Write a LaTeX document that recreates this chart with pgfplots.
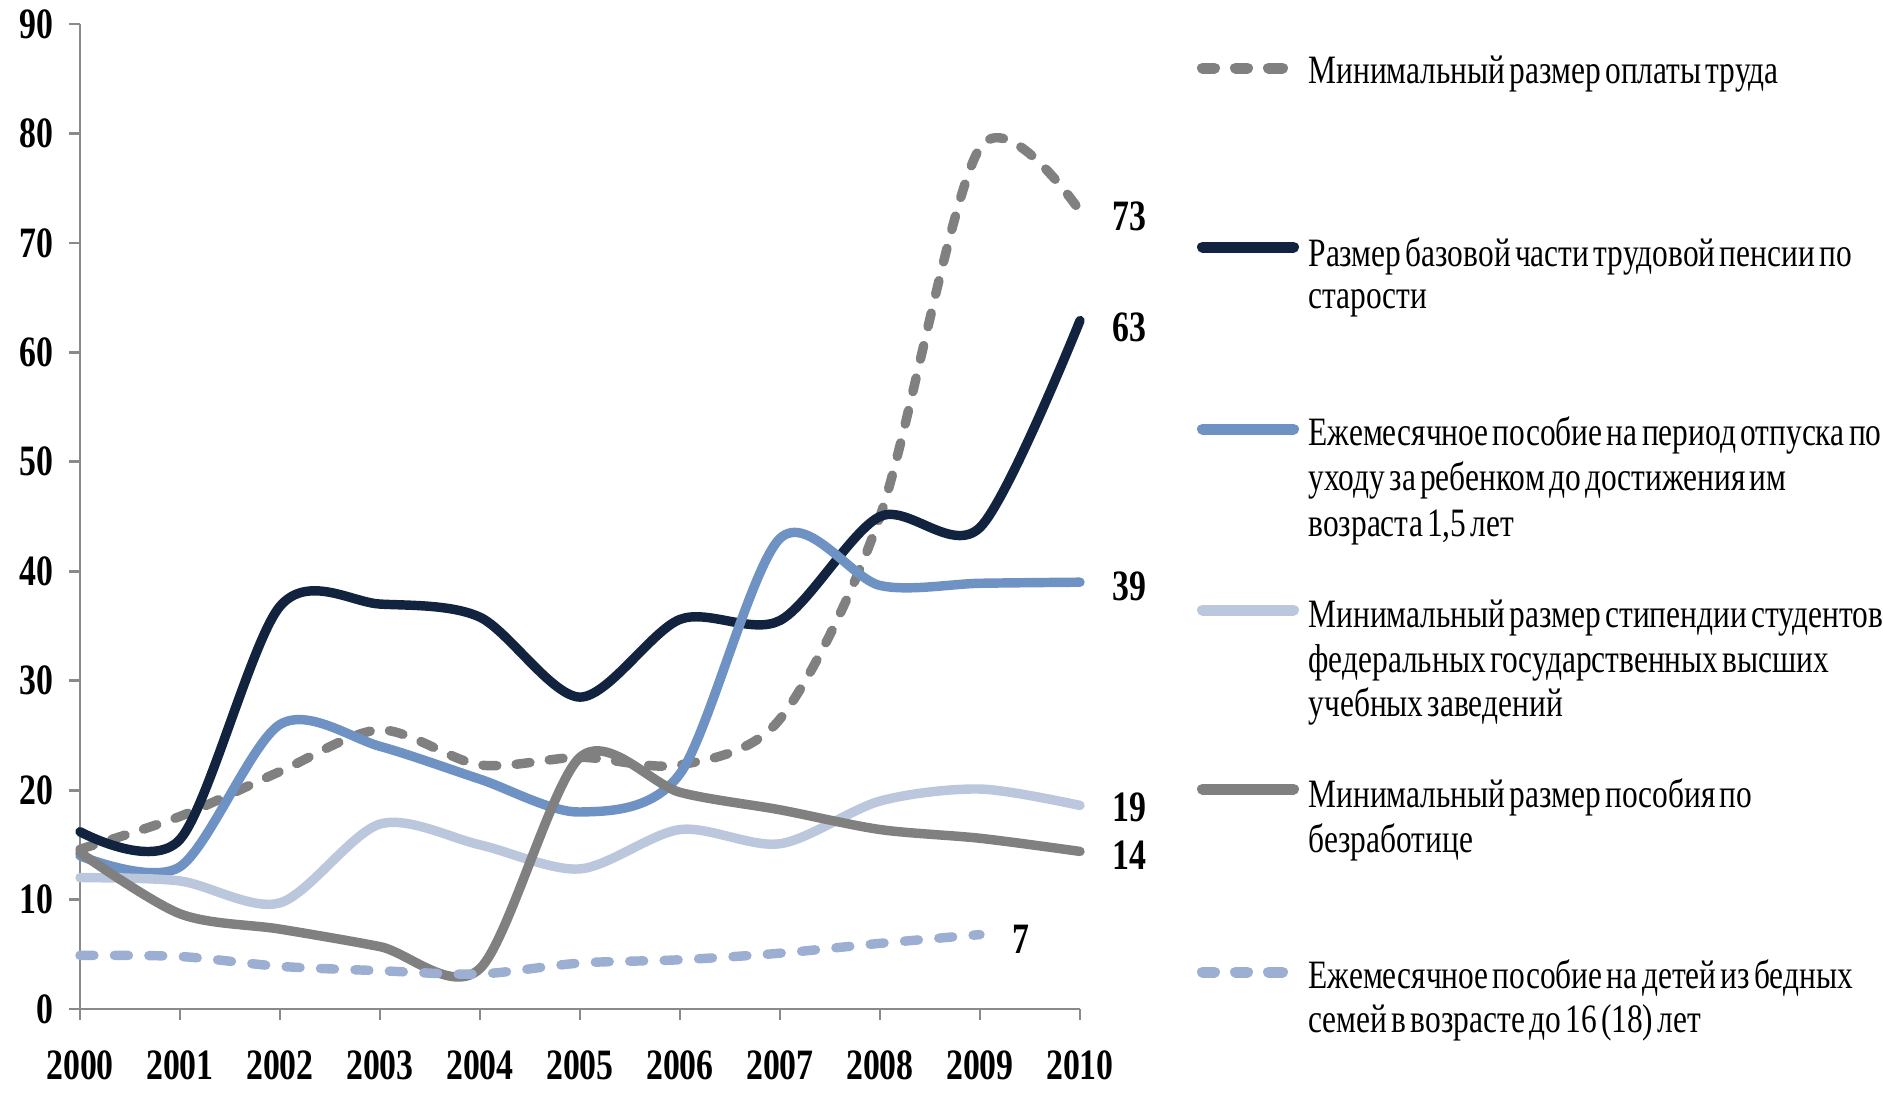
\documentclass[border=0pt]{standalone}
\usepackage{fontspec}
\setmainfont{Liberation Serif}[FakeStretch=0.78, WordSpace=0.55]
\newfontfamily\tickfont{Liberation Serif}[FakeStretch=0.78]
\usepackage{pgfplots}
\pgfplotsset{compat=1.18}
\definecolor{navy}{HTML}{12233F}
\definecolor{midblue}{HTML}{6E92C3}
\definecolor{lightblue}{HTML}{BBC7DD}
\definecolor{dgray}{HTML}{808080}
\definecolor{dashblue}{HTML}{9CAFD3}
\definecolor{axisgray}{HTML}{8A8A8A}
\begin{document}
\begin{tikzpicture}
\useasboundingbox (0,0) rectangle (677.88pt,-394.2pt);
\begin{axis}[
  at={(28.8pt,-363.24pt)}, anchor=south west,
  scale only axis, width=360pt, height=354.6pt,
  xmin=2000, xmax=2010, ymin=0, ymax=90,
  axis lines=left,
  axis line style={-, draw=axisgray, line width=1pt},
  xtick={2000,...,2010}, ytick={0,10,...,90},
  tick align=outside, major tick length=3.8pt,
  tick style={draw=axisgray, line width=1pt},
  ticklabel style={font=\tickfont\bfseries\fontsize{15.6}{16}\selectfont, text=black},
  /pgf/number format/assume math mode=true,
  /pgf/number format/1000 sep={},
  xticklabel style={yshift=-7.5pt},
  yticklabel style={xshift=-2.3pt},
  clip=false,
  every axis plot/.append style={line width=3.4pt, line cap=round, line join=round, smooth},
]
% Minimum wage
\addplot[dgray, dash pattern=on 5pt off 7pt] coordinates {
 (2000,14.6) (2001,17.6) (2002,21.7) (2003,25.5) (2004,22.3) (2005,23.0)
 (2006,22.3) (2007,26.5) (2008,45.0) (2009,78.7) (2010,72.9)};
% Base pension
\addplot[navy] coordinates {
 (2000,16.2) (2001,15.5) (2002,36.8) (2003,37.0) (2004,35.8) (2005,28.5)
 (2006,35.6) (2007,35.5) (2008,45.0) (2009,44.0) (2010,62.9)};
% Child care allowance
\addplot[midblue] coordinates {
 (2000,14.0) (2001,13.0) (2002,26.0) (2003,24.0) (2004,21.0) (2005,18.0)
 (2006,21.5) (2007,43.0) (2008,38.7) (2009,38.9) (2010,39.0)};
% Stipend
\addplot[lightblue] coordinates {
 (2000,12.0) (2001,11.7) (2002,9.7) (2003,16.9) (2004,15.0) (2005,12.8)
 (2006,16.4) (2007,15.1) (2008,19.0) (2009,20.1) (2010,18.6)};
% Unemployment benefit
\addplot[dgray] coordinates {
 (2000,14.3) (2001,8.7) (2002,7.3) (2003,5.7) (2004,3.7) (2005,23.0)
 (2006,19.8) (2007,18.2) (2008,16.4) (2009,15.6) (2010,14.4)};
% Poor families children allowance
\addplot[dashblue, dash pattern=on 5pt off 7.4pt] coordinates {
 (2000,4.9) (2001,4.8) (2002,3.9) (2003,3.5) (2004,3.2) (2005,4.2)
 (2006,4.5) (2007,5.1) (2008,6.0) (2009,6.8)};
\begin{scope}[every node/.style={font=\tickfont\bfseries\fontsize{15.6}{16}\selectfont, inner sep=0pt}]
\node at (axis cs:2010.49,72.4) {73};
\node at (axis cs:2010.49,62.3) {63};
\node at (axis cs:2010.49,38.6) {39};
\node at (axis cs:2010.49,18.4) {19};
\node at (axis cs:2010.49,14.1) {14};
\node at (axis cs:2009.41,6.4) {7};
\end{scope}
\end{axis}
\begin{scope}[x=0.36pt, y=-0.36pt,
  lg/.style={line width=3.96pt, line cap=round},
  tx/.style={anchor=base west, inner sep=0pt, font=\fontsize{14.5}{16}\selectfont}]
% entry 1
\draw[lg, dgray] (1202.5,68) -- (1214.5,68);
\draw[lg, dgray] (1235.5,68) -- (1247.5,68);
\draw[lg, dgray] (1268.5,68) -- (1282.5,68);
\node[tx] at (1308,83) {Минимальный размер оплаты труда};
% entry 2
\draw[lg, navy] (1202.5,247) -- (1293.5,247);
\node[tx] at (1308,266) {Размер базовой части трудовой пенсии по};
\node[tx] at (1308,308) {старости};
% entry 3
\draw[lg, midblue] (1202.5,429) -- (1293.5,429);
\node[tx] at (1308,445) {Ежемесячное пособие на период отпуска по};
\node[tx] at (1308,490) {уходу за ребенком до достижения им};
\node[tx] at (1308,536) {возраста 1,5 лет};
% entry 4
\draw[lg, lightblue] (1202.5,610) -- (1293.5,610);
\node[tx] at (1308,627) {Минимальный размер стипендии студентов};
\node[tx] at (1308,672) {федеральных государственных высших};
\node[tx] at (1308,716) {учебных заведений};
% entry 5
\draw[lg, dgray] (1202.5,789) -- (1293.5,789);
\node[tx] at (1308,807) {Минимальный размер пособия по};
\node[tx] at (1308,852) {безработице};
% entry 6
\draw[lg, dashblue] (1202.5,972) -- (1214.5,972);
\draw[lg, dashblue] (1235.5,972) -- (1247.5,972);
\draw[lg, dashblue] (1268.5,972) -- (1282.5,972);
\node[tx] at (1308,988) {Ежемесячное пособие на детей из бедных};
\node[tx] at (1308,1032) {семей в возрасте до 16 (18) лет};
\end{scope}
\end{tikzpicture}
\end{document}
